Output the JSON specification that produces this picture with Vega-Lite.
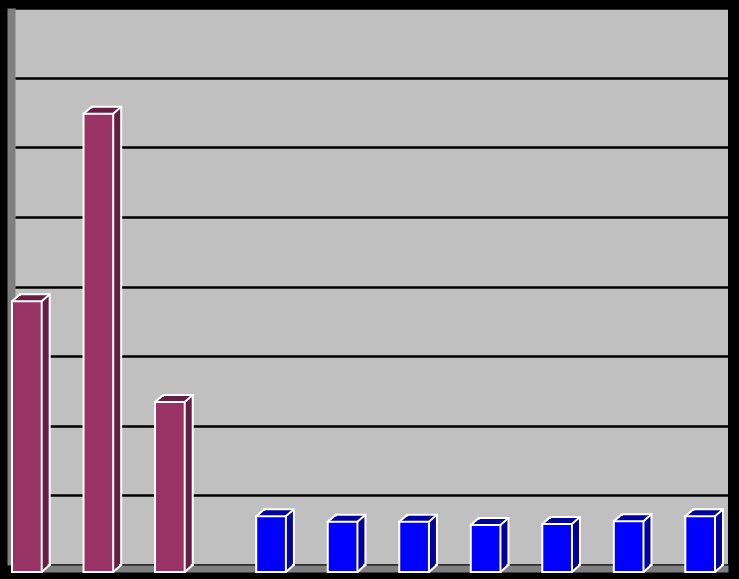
{
  "$schema": "https://vega.github.io/schema/vega-lite/v6.json",
  "width": 713,
  "height": 557,
  "autosize": {"type": "none"},
  "padding": {"left": 15, "top": 8, "right": 11, "bottom": 14},
  "background": "#000000",
  "view": {"fill": "#C0C0C0", "stroke": null},
  "data": {
    "values": [
      {"cat": 1, "series": "A", "value": 3.89},
      {"cat": 2, "series": "A", "value": 6.58},
      {"cat": 3, "series": "A", "value": 2.44},
      {"cat": 4, "series": "B", "value": 0.80},
      {"cat": 5, "series": "B", "value": 0.72},
      {"cat": 6, "series": "B", "value": 0.72},
      {"cat": 7, "series": "B", "value": 0.675},
      {"cat": 8, "series": "B", "value": 0.69},
      {"cat": 9, "series": "B", "value": 0.73},
      {"cat": 10, "series": "B", "value": 0.80}
    ]
  },
  "encoding": {
    "x": {
      "field": "cat",
      "type": "ordinal",
      "scale": {"domain": [1, 2, 3, 4, 5, 6, 7, 8, 9, 10], "paddingInner": 0.17, "paddingOuter": 0.07},
      "axis": {"orient": "bottom", "offset": 3.5, "domain": true, "domainColor": "#808080", "domainWidth": 7, "ticks": false, "labels": false, "grid": false, "title": null}
    },
    "y": {
      "field": "value",
      "type": "quantitative",
      "scale": {"domain": [0, 8], "nice": false, "zero": true},
      "axis": {"orient": "left", "offset": 4, "domain": true, "domainColor": "#808080", "domainWidth": 8, "ticks": true, "tickColor": "#000000", "tickWidth": 2.5, "tickSize": -4, "labels": false, "title": null, "grid": true, "gridColor": "#000000", "gridWidth": 2.5, "values": [0, 1, 2, 3, 4, 5, 6, 7, 8]}
    }
  },
  "layer": [
    {
      "transform": [{"filter": "datum.series === 'A'"}],
      "layer": [
        {"mark": {"type": "bar", "color": "#661E45", "stroke": "#FFFFFF", "strokeWidth": 2, "width": {"band": 0.5}, "xOffset": -14.84}},
        {"mark": {"type": "bar", "color": "#661E45", "width": {"band": 0.5}, "xOffset": -16.84, "yOffset": 1.75, "y2Offset": 1.75}},
        {"mark": {"type": "bar", "color": "#661E45", "width": {"band": 0.5}, "xOffset": -18.84, "yOffset": 3.5, "y2Offset": 3.5}},
        {"mark": {"type": "bar", "color": "#661E45", "width": {"band": 0.5}, "xOffset": -20.84, "yOffset": 5.25, "y2Offset": 5.25}},
        {"mark": {"type": "bar", "color": "#993366", "stroke": "#FFFFFF", "strokeWidth": 2, "width": {"band": 0.5}, "xOffset": -22.84, "yOffset": 7, "y2Offset": 7}},
        {
          "mark": {"type": "rule", "color": "#FFFFFF", "strokeWidth": 2, "strokeCap": "round", "xOffset": -37.67, "x2Offset": -29.67, "yOffset": 7, "y2Offset": 0},
          "encoding": {"x2": {"field": "cat"}, "y2": {"field": "value"}}
        },
        {
          "mark": {"type": "rule", "color": "#FFFFFF", "strokeWidth": 2, "strokeCap": "round", "xOffset": -8, "x2Offset": 0, "yOffset": 7, "y2Offset": 0},
          "encoding": {"x2": {"field": "cat"}, "y2": {"field": "value"}}
        },
        {
          "mark": {"type": "rule", "color": "#FFFFFF", "strokeWidth": 2, "strokeCap": "round", "xOffset": -8, "x2Offset": 0, "yOffset": 7, "y2Offset": 0},
          "encoding": {"y": {"datum": 0, "type": "quantitative"}, "x2": {"field": "cat"}, "y2": {"datum": 0}}
        }
      ]
    },
    {
      "transform": [{"filter": "datum.series === 'B'"}],
      "layer": [
        {"mark": {"type": "bar", "color": "#00009C", "stroke": "#FFFFFF", "strokeWidth": 2, "width": {"band": 0.5}, "xOffset": 14.84}},
        {"mark": {"type": "bar", "color": "#00009C", "width": {"band": 0.5}, "xOffset": 12.84, "yOffset": 1.75, "y2Offset": 1.75}},
        {"mark": {"type": "bar", "color": "#00009C", "width": {"band": 0.5}, "xOffset": 10.84, "yOffset": 3.5, "y2Offset": 3.5}},
        {"mark": {"type": "bar", "color": "#00009C", "width": {"band": 0.5}, "xOffset": 8.84, "yOffset": 5.25, "y2Offset": 5.25}},
        {"mark": {"type": "bar", "color": "#0000FF", "stroke": "#FFFFFF", "strokeWidth": 2, "width": {"band": 0.5}, "xOffset": 6.84, "yOffset": 7, "y2Offset": 7}},
        {
          "mark": {"type": "rule", "color": "#FFFFFF", "strokeWidth": 2, "strokeCap": "round", "xOffset": -8, "x2Offset": 0, "yOffset": 7, "y2Offset": 0},
          "encoding": {"x2": {"field": "cat"}, "y2": {"field": "value"}}
        },
        {
          "mark": {"type": "rule", "color": "#FFFFFF", "strokeWidth": 2, "strokeCap": "round", "xOffset": 21.67, "x2Offset": 29.67, "yOffset": 7, "y2Offset": 0},
          "encoding": {"x2": {"field": "cat"}, "y2": {"field": "value"}}
        },
        {
          "mark": {"type": "rule", "color": "#FFFFFF", "strokeWidth": 2, "strokeCap": "round", "xOffset": 21.67, "x2Offset": 29.67, "yOffset": 7, "y2Offset": 0},
          "encoding": {"y": {"datum": 0, "type": "quantitative"}, "x2": {"field": "cat"}, "y2": {"datum": 0}}
        }
      ]
    }
  ]
}
